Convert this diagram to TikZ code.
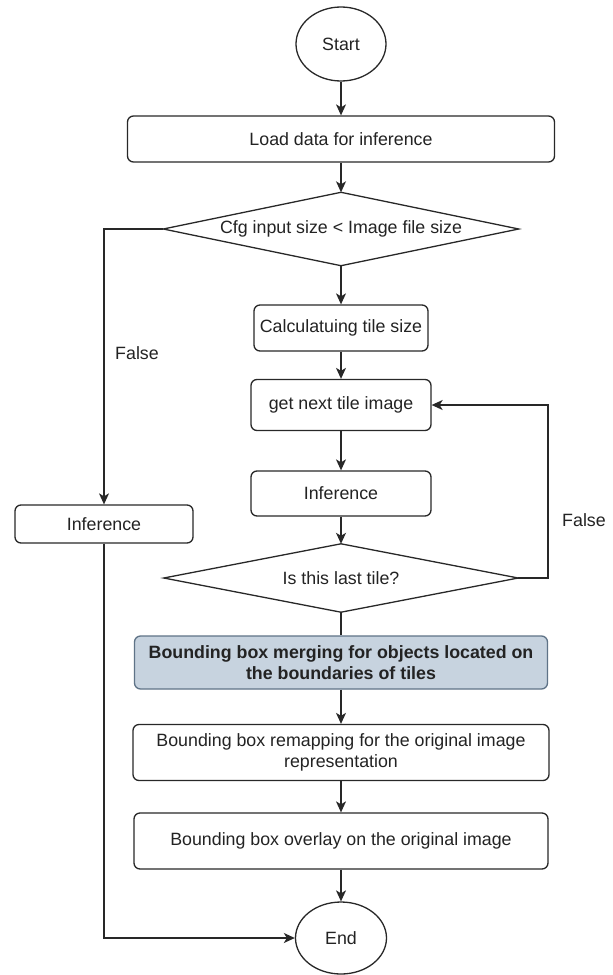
\documentclass[tikz,border=0pt]{standalone}
\usepackage{fontspec}
\setmainfont{Liberation Sans}
\usetikzlibrary{shapes.geometric,arrows.meta}
\definecolor{txt}{RGB}{35,35,35}
\definecolor{ln}{RGB}{40,40,40}
\definecolor{bluefill}{RGB}{199,211,223}
\definecolor{blueline}{RGB}{95,115,135}
\begin{document}
\begin{tikzpicture}[x=1pt,y=-1pt,
  every node/.style={font=\fontsize{17.8}{21.5}\selectfont, text=txt},
  box/.style={draw=ln, line width=1.3pt, rounded corners=6pt, align=center, inner sep=0pt},
  term/.style={draw=ln, line width=1.3pt, ellipse, inner sep=0pt},
  dia/.style={draw=none, inner sep=0pt},
  conn/.style={draw=ln, line width=1.3pt, -{Stealth[length=11pt,width=10pt,inset=3pt]}},
  plain/.style={draw=ln, line width=1.3pt},
  lbl/.style={inner sep=0pt}
]
\useasboundingbox (0,0) rectangle (613,975);
\fill[white] (0,0) rectangle (613,975);

\node[term, minimum width=90pt, minimum height=74pt] (start) at (341,44) {Start};
\node[box, minimum width=427pt, minimum height=46pt] (load) at (341,139) {Load data for inference};
\node[dia, minimum width=355pt, minimum height=73pt] (d1) at (341,229) {Cfg input size < Image file size};
\draw[plain] (d1.west) -- (d1.north) -- (d1.east) -- (d1.south) -- cycle;
\node[box, minimum width=174pt, minimum height=46pt] (calc) at (341,328) {Calculatuing tile size};
\node[box, minimum width=180pt, minimum height=51pt] (next) at (341,405) {get next tile image};
\node[box, minimum width=180pt, minimum height=45pt] (infR) at (341,493.5) {Inference};
\node[dia, minimum width=354pt, minimum height=68pt] (d2) at (341,578) {Is this last tile?};
\draw[plain] (d2.west) -- (d2.north) -- (d2.east) -- (d2.south) -- cycle;
\node[box, fill=bluefill, draw=blueline, minimum width=413pt, minimum height=53pt, font=\fontsize{17.8}{21}\selectfont\bfseries] (merge) at (341,662.5) {Bounding box merging for objects located on\\the boundaries of tiles};
\node[box, minimum width=416pt, minimum height=56pt] (remap) at (341,752.5) {Bounding box remapping for the original image\\representation};
\node[box, minimum width=414pt, minimum height=56pt] (overlay) at (341,841) {Bounding box overlay on the original image};
\node[term, minimum width=91pt, minimum height=72pt] (end) at (341,938) {End};

\node[box, minimum width=178pt, minimum height=38pt] (infL) at (104,524) {Inference};

\coordinate (loopc) at (548,578);

\draw[conn] (start) -- (load);
\draw[conn] (load) -- (d1.north);
\draw[conn] (d1.south) -- (calc);
\draw[conn] (calc) -- (next);
\draw[conn] (next) -- (infR);
\draw[conn] (infR) -- (d2.north);
\draw[plain] (d2.south) -- (merge);
\draw[conn] (merge) -- (remap);
\draw[conn] (remap) -- (overlay);
\draw[conn] (overlay) -- (end);
\draw[conn] (d2.east) -- (loopc) |- (next.east);
\draw[conn] (d1.west) -| (infL.north);
\draw[conn] (infL.south) |- (end.west);

\node[lbl] (f1) at (137,353) {False};
\node[lbl] (f2) at (584,520) {False};
\end{tikzpicture}
\end{document}
